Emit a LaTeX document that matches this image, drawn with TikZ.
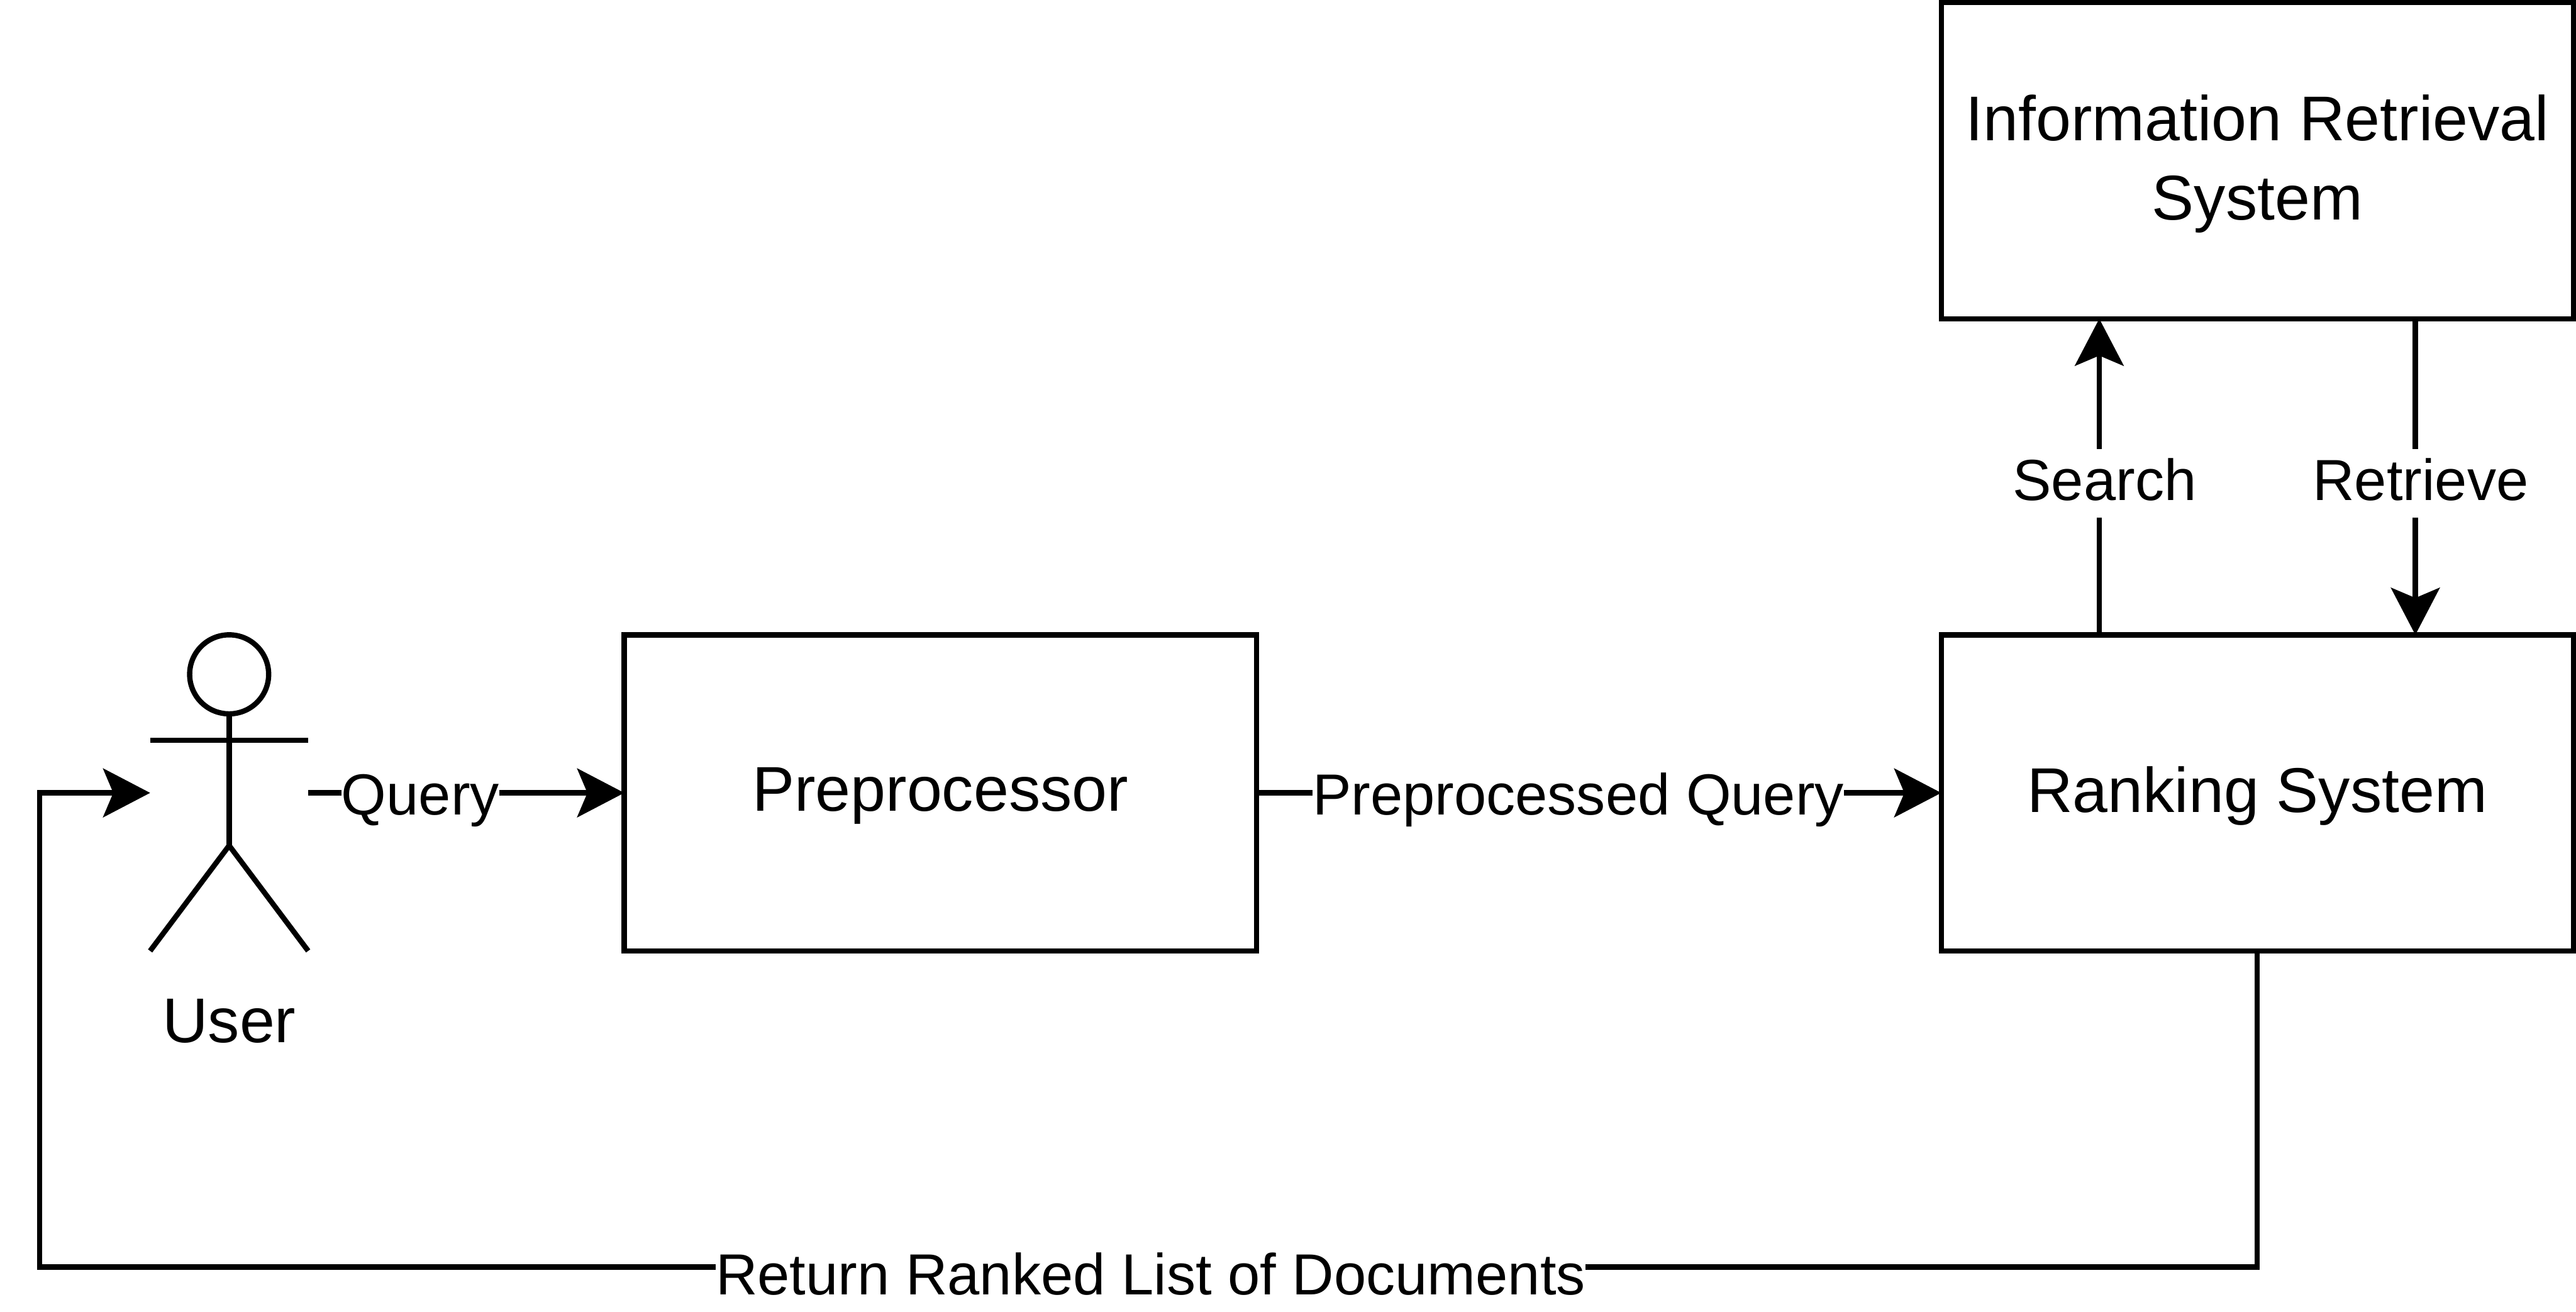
\documentclass[tikz,border=0pt]{standalone}
\usepackage{fontspec}
\setmainfont{Liberation Sans}
\usetikzlibrary{positioning, calc, arrows.meta}
\tikzset{
	sysbox/.style={draw=black, line width=1mm, minimum width=12cm, minimum height=6cm, inner sep=0pt, outer sep=0pt,
		align=center, text depth=.13cm, font=\fontsize{34.14}{42.7}\selectfont},
	flow/.style={draw=black, line width=1mm,
		-{Stealth[length=9mm, width=9.4mm, inset=2mm, line width=0pt]}},
	flowlabel/.style={fill=white, inner sep=0pt, anchor=base, text height=.97cm, text depth=.33cm,
		font=\fontsize{31.3}{36}\selectfont},
	stick/.style={draw=black, line width=1mm},
}
\begin{document}
\begin{tikzpicture}
	\useasboundingbox (0,0) rectangle (48.9,24.9);
	\node[sysbox] (preproc) at (17.85,9.85) {Preprocessor};
	\node[sysbox, right=13cm of preproc] (rank) {Ranking System};
	\node[sysbox, above=6cm of rank] (irsys) {Information Retrieval\\System};
	\node[minimum width=3cm, minimum height=6cm, inner sep=0pt, outer sep=0pt, left=6cm of preproc] (actor) {};
	\node[circle, stick, minimum size=1.5cm, inner sep=0pt, outer sep=0pt, anchor=north] (head) at (actor.north) {};
	\node[below=.9cm of actor, inner sep=0pt, font=\fontsize{34.14}{42.7}\selectfont] (userlabel) {User};
	% stick figure
	\coordinate (hip) at ($(actor.south)+(0,2)$);
	\coordinate (arms) at ($(actor.north)+(0,-2)$);
	\draw[stick] (head.south) -- (hip);
	\draw[stick] (actor.north west |- arms) -- (actor.north east |- arms);
	\draw[stick] (actor.south west) -- (hip) -- (actor.south east);
	% connectors
	\coordinate (searchfoot) at ($(rank.north west)!.25!(rank.north east)$);
	\coordinate (searchtop) at ($(irsys.south west)!.25!(irsys.south east)$);
	\coordinate (retrievefoot) at ($(rank.north west)!.75!(rank.north east)$);
	\coordinate (retrievetop) at ($(irsys.south west)!.75!(irsys.south east)$);
	\coordinate (backleft) at (.75,.85);
	\draw[flow] (actor.east) -- node[flowlabel, pos=.355, yshift=-4.2mm] (querylabel) {Query} (preproc.west);
	\draw[flow] (preproc.east) -- node[flowlabel, pos=.47, yshift=-4.2mm] (pqlabel) {Preprocessed Query} (rank.west);
	\draw[flow] (searchfoot) -- node[flowlabel, pos=.425, xshift=1mm] (searchlabel) {Search} (searchtop);
	\draw[flow] (retrievetop) -- node[flowlabel, pos=.575, xshift=1mm] (retrievelabel) {Retrieve} (retrievefoot);
	\draw[flow] (rank.south) |- node[flowlabel, pos=.7495, yshift=-5.3mm] (backlabel) {Return Ranked List of Documents} (backleft) |- (actor.west);
\end{tikzpicture}
\end{document}
